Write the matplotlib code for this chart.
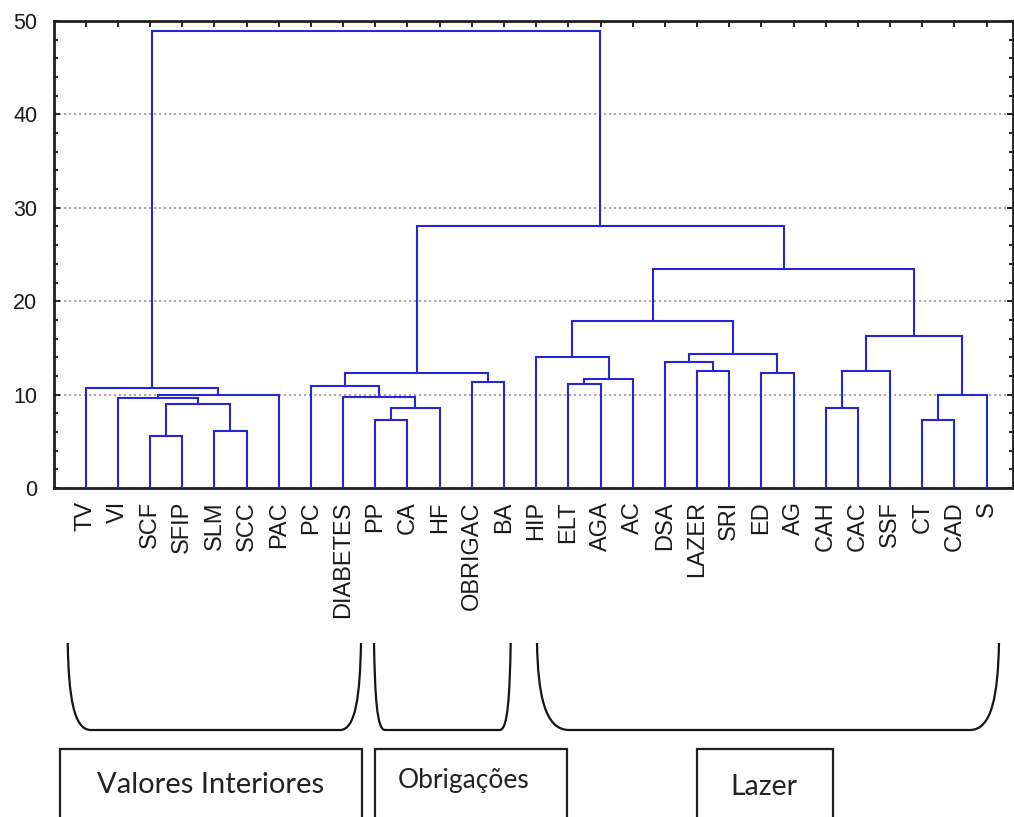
import matplotlib
matplotlib.use('Agg')
import matplotlib.pyplot as plt
from matplotlib.patches import PathPatch, Rectangle
from matplotlib.path import Path
from matplotlib.ticker import FixedLocator, MultipleLocator

plt.rcParams['font.family'] = ['Liberation Sans', 'DejaVu Sans']

# leaves, in dendrogram order
leaf_labels = ['TV', 'VI', 'SCF', 'SFIP', 'SLM', 'SCC', 'PAC', 'PC', 'DIABETES',
               'PP', 'CA', 'HF', 'OBRIGAC', 'BA', 'HIP', 'ELT', 'AGA', 'AC', 'DSA',
               'LAZER', 'SRI', 'ED', 'AG', 'CAH', 'CAC', 'SSF', 'CT', 'CAD', 'S']

# linkage rows (scipy style): new cluster id = n_leaves + row index
merge_left = [2, 4, 9, 26, 23, 31, 29, 1, 8, 36, 32, 0, 7, 15, 12, 42, 21, 41,
              19, 33, 18, 14, 49, 48, 50, 53, 46, 40]
merge_right = [3, 5, 10, 27, 24, 11, 30, 35, 34, 6, 28, 38, 37, 16, 13, 17, 22, 43,
               20, 25, 47, 44, 45, 39, 51, 52, 54, 55]
merge_height = [5.6, 6.1, 7.3, 7.3, 8.6, 8.6, 9.0, 9.6, 9.7, 10.0, 10.0, 10.7, 10.95,
                11.1, 11.4, 11.7, 12.3, 12.3, 12.55, 12.55, 13.45, 14.0, 14.3, 16.3,
                17.9, 23.5, 28.0, 48.9]

group_names = ['Valores Interiores', 'Obrigações', 'Lazer']

W, H = 1014, 817
LINE = '#2626d8'

fig = plt.figure(figsize=(W / 100, H / 100), dpi=100)
ax = fig.add_axes([54 / W, 1 - 488 / H, (1013 - 54) / W, (488 - 21) / H])

n = len(leaf_labels)
xpos = {i: float(i) for i in range(n)}
ypos = {i: 0.0 for i in range(n)}
for k, (a, b, h) in enumerate(zip(merge_left, merge_right, merge_height)):
    ax.plot([xpos[a], xpos[a], xpos[b], xpos[b]], [ypos[a], h, h, ypos[b]],
            color=LINE, lw=1.5, zorder=3, solid_joinstyle='miter')
    xpos[n + k] = (xpos[a] + xpos[b]) / 2
    ypos[n + k] = h

ax.set_xlim(-0.985, 28.82)
ax.set_ylim(0, 50)

ax.xaxis.set_major_locator(FixedLocator(range(n)))
ax.set_xticklabels(leaf_labels, rotation=90, fontsize=17, color='#1a1a1a')
ax.yaxis.set_major_locator(MultipleLocator(10))
ax.yaxis.set_minor_locator(MultipleLocator(2))
ax.tick_params(axis='x', direction='in', top=True, length=4, width=1.2, pad=9.5)
ax.tick_params(axis='y', which='major', direction='in', right=True, length=4,
               width=1.2, pad=12, labelsize=15.5, labelcolor='#1a1a1a')
ax.tick_params(axis='y', which='minor', direction='in', right=True, length=3, width=1.2)
ax.yaxis.grid(True, which='major', color='#a8a8a8', linestyle=(0, (1, 1.4)), linewidth=1.5)
for s in ax.spines.values():
    s.set_linewidth(2)
    s.set_color('#202020')


def px(x, y):
    return (x / W, 1 - y / H)


# hand-drawn brackets under the groups (figure pixels)
bracket_layout = [(67.7, 361, 23, 21), (374, 510.7, 11, 11), (537, 999, 32, 29)]
top, bottom = 643, 730
hh = bottom - top
for x0, x1, r0, r1 in bracket_layout:
    verts = [(x0, top), (x0 + 1, top + 0.6 * hh), (x0 + 0.25 * r0, bottom), (x0 + r0, bottom),
             (x1 - r1, bottom),
             (x1 - 0.25 * r1, bottom), (x1 - 1, top + 0.6 * hh), (x1, top)]
    codes = [Path.MOVETO, Path.CURVE4, Path.CURVE4, Path.CURVE4, Path.LINETO,
             Path.CURVE4, Path.CURVE4, Path.CURVE4]
    path = Path([px(*v) for v in verts], codes)
    fig.patches.append(PathPatch(path, transform=fig.transFigure, fill=False,
                                 lw=1.6, edgecolor='#151515'))

# label boxes (run off the bottom edge)
box_layout = [(60, 361.7), (375, 566.7), (696.6, 832.5)]
text_layout = [(211, 793, 21), (464, 788, 19), (764, 795, 20.5)]
for (bx0, bx1), (tx, ty, fs), name in zip(box_layout, text_layout, group_names):
    x0, y0 = px(bx0, 840)
    x1, y1 = px(bx1, 749)
    fig.patches.append(Rectangle((x0, y0), x1 - x0, y1 - y0, transform=fig.transFigure,
                                 fill=False, lw=1.6, edgecolor='#202020'))
    fig.text(*px(tx, ty), name, ha='center', va='baseline', fontsize=fs,
             family=['Lato', 'DejaVu Sans'], color='#222222')

fig.savefig('out.png', dpi=100)
